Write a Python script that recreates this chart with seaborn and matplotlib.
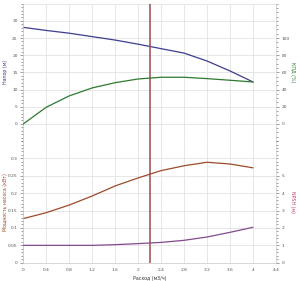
import matplotlib
matplotlib.use("Agg")
import matplotlib.pyplot as plt
import seaborn as sns
import pandas as pd
from matplotlib.ticker import MultipleLocator, FuncFormatter

sns.set_style("white")
plt.rcParams['font.family'] = ['DejaVu Sans']

flow = [0, 0.4, 0.8, 1.2, 1.6, 2.0, 2.4, 2.8, 3.2, 3.6, 4.0]
head = [28.1, 27.2, 26.4, 25.4, 24.4, 23.2, 21.9, 20.6, 18.3, 15.4, 12.2]
efficiency = [0, 19.4, 32.6, 41.9, 48.0, 52.3, 54.3, 54.3, 52.7, 50.8, 48.8]
power = [0.127, 0.144, 0.166, 0.192, 0.221, 0.244, 0.265, 0.279, 0.289, 0.284, 0.273]
npsh = [1.0, 1.0, 1.0, 1.0, 1.04, 1.1, 1.17, 1.29, 1.48, 1.75, 2.04]
duty_flow = 2.2

df = pd.DataFrame({"flow": flow, "head": head, "eff": efficiency,
                   "power": power, "npsh": npsh})

c_head = "#3d3d8f"
c_eff = "#2e7a2e"
c_pow = "#9c4a2c"
c_npsh = "#844a8e"
c_duty = "#9a4e4e"
grid_c = "#e3e3e3"
spine_c = "#c8c8c8"
tick_c = "#555555"

fig = plt.figure(figsize=(3.0, 2.81), dpi=100)
ax1 = fig.add_axes([0.0777, 0.498, 0.8423, 0.489])
ax2 = fig.add_axes([0.0777, 0.065, 0.8423, 0.433], sharex=ax1)
ax1r = ax1.twinx()
ax2r = ax2.twinx()

sns.lineplot(data=df, x="flow", y="head", ax=ax1, color=c_head, lw=0.9)
sns.lineplot(data=df, x="flow", y="eff", ax=ax1r, color=c_eff, lw=0.9)
sns.lineplot(data=df, x="flow", y="power", ax=ax2, color=c_pow, lw=0.9)
sns.lineplot(data=df, x="flow", y="npsh", ax=ax2r, color=c_npsh, lw=0.9)

ax1.set_xlim(0, 4.4)
ax1.set_ylim(-5, 35)
ax1r.set_ylim(-20, 140)
ax2.set_ylim(0, 0.35)
ax2r.set_ylim(0, 7)

ax1.set_yticks([0, 5, 10, 15, 20, 25, 30])
ax1r.set_yticks([0, 20, 40, 60, 80, 100])
ax2.set_yticks([0, 0.05, 0.1, 0.15, 0.2, 0.25, 0.3])
ax2r.set_yticks([0, 1, 2, 3, 4, 5])
ax2.xaxis.set_major_locator(MultipleLocator(0.4))
ax2.xaxis.set_minor_locator(MultipleLocator(0.1))
ax1.yaxis.set_minor_locator(MultipleLocator(1))
ax1r.yaxis.set_minor_locator(MultipleLocator(5))
ax2.yaxis.set_minor_locator(MultipleLocator(0.01))
ax2r.yaxis.set_minor_locator(MultipleLocator(0.2))
ax2.xaxis.set_major_formatter(FuncFormatter(lambda v, p: f"{v:g}"))
ax2.yaxis.set_major_formatter(FuncFormatter(lambda v, p: f"{v:g}"))

for a in (ax1, ax2):
    a.grid(True, which="major", color=grid_c, lw=0.6)
    a.set_axisbelow(True)
for a in (ax1r, ax2r):
    a.grid(False)
ax1.axhline(35, color=grid_c, lw=0.6, zorder=0)
ax1.axhline(-5, color=grid_c, lw=0.6, zorder=0)

for a in (ax1, ax2, ax1r, ax2r):
    for s in a.spines.values():
        s.set_visible(False)
    a.tick_params(which="both", labelsize=3.2, colors=tick_c, width=0.4, pad=1.5)
    a.tick_params(which="major", length=2.5)
    a.tick_params(which="minor", length=1.2)
    a.set_xlabel("")
    a.set_ylabel("")

for a in (ax1, ax2):
    a.spines["left"].set_visible(True)
    a.spines["left"].set_color(spine_c)
    a.spines["left"].set_linewidth(0.5)
for a in (ax1r, ax2r):
    a.spines["right"].set_visible(True)
    a.spines["right"].set_color(spine_c)
    a.spines["right"].set_linewidth(0.5)
ax2.spines["bottom"].set_visible(True)
ax2.spines["bottom"].set_color(spine_c)
ax2.spines["bottom"].set_linewidth(0.5)

ax1.tick_params(axis="x", which="both", bottom=False, labelbottom=False)
ax1r.tick_params(axis="x", which="both", bottom=False, labelbottom=False)
ax2r.tick_params(axis="x", which="both", bottom=False, labelbottom=False)

ax1.axvline(duty_flow, color=c_duty, lw=1.1, zorder=5)
ax2.axvline(duty_flow, color=c_duty, lw=1.1, zorder=5)

ax1.set_ylabel("Напор (м)", fontsize=3.4, color=c_head)
ax1r.set_ylabel("КПД (%)", fontsize=3.4, color=c_eff, rotation=270, va="center")
ax2.set_ylabel("Мощность насоса (кВт)", fontsize=3.4, color=c_pow)
ax2r.set_ylabel("NPSH (м)", fontsize=3.4, color="#c04060", rotation=270, va="center")
ax2.set_xlabel("Расход (м3/ч)", fontsize=3.4, color="#333333", labelpad=3)

ax1.yaxis.set_label_coords(-0.06, 0.5)
ax2.yaxis.set_label_coords(-0.06, 0.5)
ax1r.yaxis.set_label_coords(1.065, 0.5)
ax2r.yaxis.set_label_coords(1.065, 0.5)

fig.savefig("out.png", dpi=100)
